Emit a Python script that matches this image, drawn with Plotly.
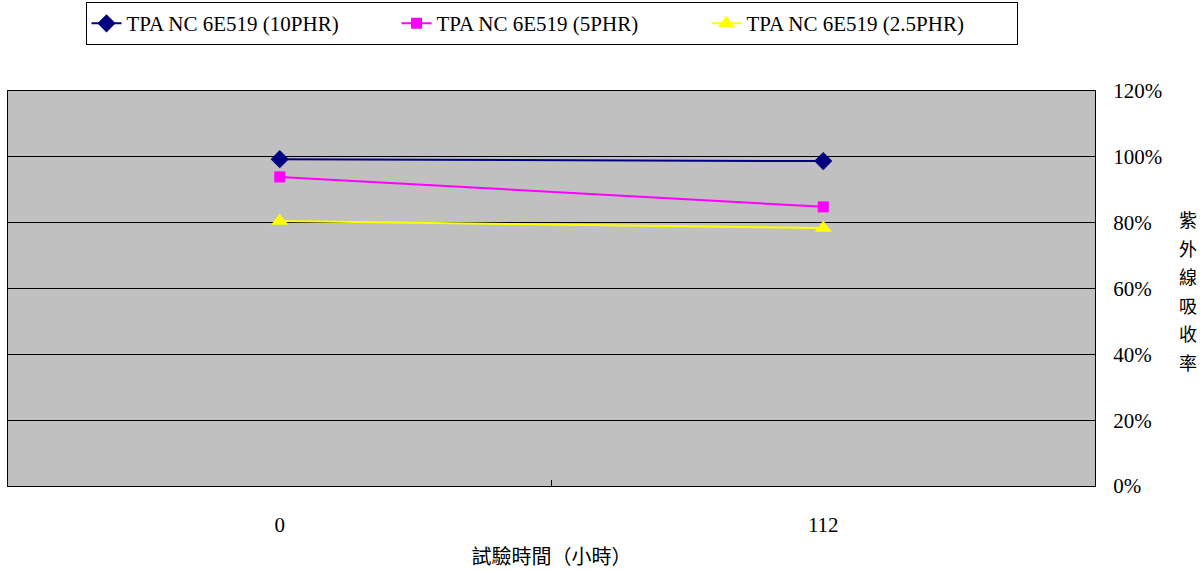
import plotly.graph_objects as go

categories = ["0", "112"]
s10 = [99.3, 98.7]
s5 = [93.9, 84.8]
s25 = [80.5, 78.4]
names = ["TPA NC 6E519 (10PHR)", "TPA NC 6E519 (5PHR)", "TPA NC 6E519 (2.5PHR)"]
y_title_chars = ["紫", "外", "線", "吸", "收", "率"]
x_title = "試驗時間（小時）"

serif = "Liberation Serif, Times New Roman, serif"
cjk = "Noto Sans CJK TC"

fig = go.Figure()
fig.add_trace(go.Scatter(x=categories, y=s10, name=names[0], mode="lines+markers",
                         line=dict(color="#000080", width=2),
                         marker=dict(symbol="diamond", size=14, color="#000080")))
fig.add_trace(go.Scatter(x=categories, y=s5, name=names[1], mode="lines+markers",
                         line=dict(color="#FF00FF", width=2),
                         marker=dict(symbol="square", size=11, color="#FF00FF")))
fig.add_trace(go.Scatter(x=categories, y=s25, name=names[2], mode="lines+markers",
                         line=dict(color="#FFFF00", width=2),
                         marker=dict(symbol="triangle-up", size=15, color="#FFFF00")))

fig.update_layout(
    width=1200, height=570,
    margin=dict(l=8, r=105, t=91, b=84, autoexpand=False),
    paper_bgcolor="white", plot_bgcolor="#C0C0C0",
    font=dict(family=serif, size=21, color="black"),
    legend=dict(orientation="h", x=0.5, xanchor="center", y=1.225, yanchor="top",
                bordercolor="black", borderwidth=1, font=dict(size=21, family=serif),
                entrywidth=265, entrywidthmode="pixels", tracegroupgap=0),
    showlegend=True,
    xaxis=dict(type="category", range=[-0.5, 1.5], tickson="boundaries",
               ticks="inside", ticklen=6, tickcolor="black",
               showline=True, linecolor="black", linewidth=1, mirror=True,
               showgrid=False, ticklabelstandoff=20,
               title=dict(text=x_title, font=dict(family=cjk, size=20), standoff=18)),
    yaxis=dict(side="right", range=[0, 120], dtick=20, ticksuffix="%",
               showgrid=True, gridcolor="black", gridwidth=1,
               showline=True, linecolor="black", linewidth=1, mirror=True,
               ticks="", ticklabelstandoff=13, zeroline=False),
)

plot_h = 570 - 91 - 84
plot_w = 1200 - 8 - 105
for i, ch in enumerate(y_title_chars):
    py = 219 + i * 28.5
    fig.add_annotation(text=ch, xref="paper", yref="paper",
                       x=(1188 - 8) / plot_w, y=(486 - py) / plot_h,
                       showarrow=False, font=dict(family=cjk, size=18),
                       xanchor="center", yanchor="middle")

fig.write_html("out.html", config={"displayModeBar": False},
               post_script="document.body.style.margin='0';")
